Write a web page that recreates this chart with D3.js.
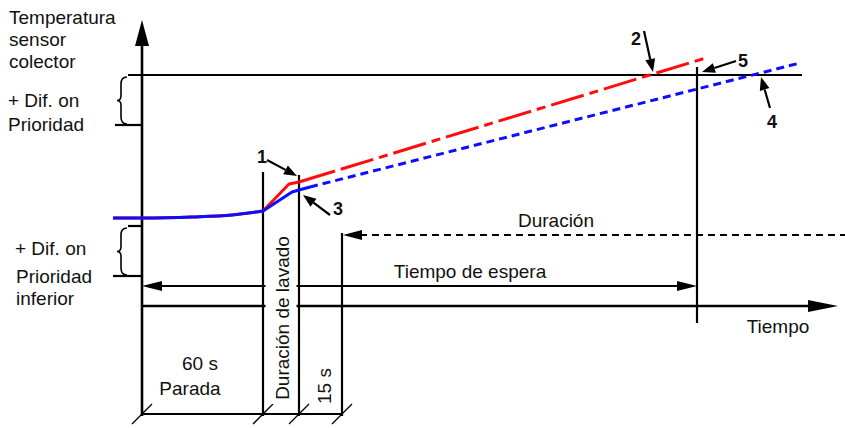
<!DOCTYPE html>
<html><head><meta charset="utf-8">
<script src="https://cdn.jsdelivr.net/npm/d3@7/dist/d3.min.js"></script>
<style>
body{margin:0;background:#fff;}
text{font-family:"Liberation Sans",Arial,sans-serif;fill:#111;}
</style></head>
<body>
<svg id="c" width="845" height="428"></svg>
<script>
// ---- data (units: abstract time / temperature steps) ----
const timeMarks = [0, 121, 157, 200, 555];          // origin, end stop, end flush, end 15 s, end waiting time
const timeAxisEnd = 696;
const levelOn = 231, levelOnLow = 181;               // + Dif. on Prioridad
const levelInfOn = 80, levelInfLow = 30;             // + Dif. on Prioridad inferior
const tempAxisEnd = 286;
const durationLevel = 71, waitLevel = 20;
const redSolid  = [[-29,88],[0,88],[50,89],[90,91],[121,95],[147,122],[157,124],[193,135]];
const redDash   = [[193,135],[567,249]];
const blueSolid = [[-29,88],[0,88],[50,89],[90,91],[121,95],[150,114],[157,116],[168,119]];
const blueDash  = [[168,119],[658,243]];
const yLabelLines = ["Temperatura","sensor","colector"];
const difLines = ["+ Dif. on","Prioridad"];
const difInfLines = ["+ Dif. on","Prioridad","inferior"];
const callouts = ["1","2","3","4","5"];

const svg = d3.select("#c");
const x = d3.scaleLinear().domain([0, 695]).range([142, 837]);
const y = d3.scaleLinear().domain([0, 286]).range([306, 20]);
const K = "#000";

function ln(x1,y1,x2,y2,w,extra){
  const l = svg.append("line").attr("x1",x1).attr("y1",y1).attr("x2",x2).attr("y2",y2)
    .attr("stroke",K).attr("stroke-width",w||2);
  if(extra) l.attr("stroke-dasharray",extra);
  return l;
}
function head(tx,ty,fx,fy,len,hw){
  const dx=tx-fx, dy=ty-fy, d=Math.hypot(dx,dy), ux=dx/d, uy=dy/d;
  const bx=tx-ux*len, by=ty-uy*len;
  svg.append("path").attr("d",`M${tx},${ty}L${bx-uy*hw},${by+ux*hw}L${bx+uy*hw},${by-ux*hw}Z`).attr("fill",K);
  return [bx,by];
}
function callArrow(fx,fy,tx,ty){
  const b = head(tx,ty,fx,fy,13,5);
  ln(fx,fy,b[0],b[1],2.2);
}

const x0 = x(timeMarks[0]);
const yb = 414;

// horizontal reference lines
ln(x0-14, y(levelOn), x(658)+2, y(levelOn), 2.2);
ln(x0-27, y(levelOnLow), x0, y(levelOnLow), 2.2);
ln(x0-14, y(levelInfOn), x0, y(levelInfOn), 2.2);
ln(x0-29, y(levelInfLow), x0, y(levelInfLow), 2.2);

// braces
function brace(bx, y1, y2){
  const m=(y1+y2)/2;
  svg.append("path").attr("fill","none").attr("stroke",K).attr("stroke-width",1.6)
    .attr("d",`M${bx+8},${y1}Q${bx+2},${y1} ${bx+2},${y1+7}L${bx+2},${m-5}Q${bx+2},${m} ${bx-2},${m}Q${bx+2},${m} ${bx+2},${m+5}L${bx+2},${y2-7}Q${bx+2},${y2} ${bx+8},${y2}`);
}
brace(119, y(levelOn)+2, y(levelOnLow)-1);
brace(119, y(levelInfOn)+2, y(levelInfLow)-1);

// time axis
const xa = y(0);
ln(x0, xa, x(timeAxisEnd)-20, xa, 2.5);
svg.append("path").attr("d",`M${x(timeAxisEnd)},${xa}L${x(timeAxisEnd)-30},${xa-6}L${x(timeAxisEnd)-30},${xa+6}Z`).attr("fill",K);
// waiting time
const yw = y(waitLevel);
ln(x0+18, yw, x(timeMarks[4])-18, yw, 2.2);
head(x0, yw, x0+20, yw, 20, 5);
head(x(timeMarks[4]), yw, x(timeMarks[4])-20, yw, 20, 5);
// duration dashed
const yd = y(durationLevel);
ln(x(timeMarks[3])+18, yd, 845, yd, 2.2, "7,5");
head(x(timeMarks[3])+1, yd, x(timeMarks[3])+20, yd, 19, 5);

// verticals
ln(x0, 42, x0, yb+2, 2.6);
svg.append("path").attr("d",`M${x0},20L${x0-7},46L${x0+7},46Z`).attr("fill",K);
ln(x(timeMarks[1]), 172, x(timeMarks[1]), yb+2, 2.2);
ln(x(timeMarks[2]), 175, x(timeMarks[2]), yb+2, 2.2);
ln(x(timeMarks[3]), yd-2, x(timeMarks[3]), yb+2, 2.2);
ln(x(timeMarks[4]), 67, x(timeMarks[4]), 323, 2.2);

// bottom dimension line
ln(x0, yb, x(timeMarks[3]), yb, 2.2);
[0,1,2,3].forEach(i=>{ const xx=x(timeMarks[i]); ln(xx-10,yb+10,xx+10,yb-10,1.3); });

// white mask behind rotated label
svg.append("rect").attr("x",x(timeMarks[1])+2.5).attr("y",232).attr("width",x(timeMarks[2])-x(timeMarks[1])-5).attr("height",172).attr("fill","#fff");

// curves
const line = d3.line().x(d=>x(d[0])).y(d=>y(d[1]));
const lc = d3.line().x(d=>x(d[0])).y(d=>y(d[1])).curve(d3.curveMonotoneX);
svg.append("path").attr("d",lc(redSolid.slice(0,5))+ "L"+redSolid.slice(5).map(d=>x(d[0])+","+y(d[1])).join("L")).attr("fill","none").attr("stroke","#ff0d0d").attr("stroke-width",3).attr("stroke-linejoin","round");
svg.append("path").attr("d",line(redDash)).attr("fill","none").attr("stroke","#ff0d0d").attr("stroke-width",3).attr("stroke-dasharray","34,6,9,6").attr("stroke-dashoffset",-6);
svg.append("path").attr("d",lc(blueSolid.slice(0,5))+ "L"+blueSolid.slice(5).map(d=>x(d[0])+","+y(d[1])).join("L")).attr("fill","none").attr("stroke","#0d0dff").attr("stroke-width",3).attr("stroke-linejoin","round");
svg.append("path").attr("d",line(blueDash)).attr("fill","none").attr("stroke","#0d0dff").attr("stroke-width",3).attr("stroke-dasharray","8,5");

// texts
function txt(s,tx,ty,opt){
  opt=opt||{};
  const t=svg.append("text").attr("x",tx).attr("y",ty).text(s)
    .style("font-size",(opt.size||19)+"px");
  if(opt.anchor) t.attr("text-anchor",opt.anchor);
  if(opt.bold) t.style("font-weight","bold");
  if(opt.rot) t.attr("transform",`rotate(-90,${tx},${ty})`);
  return t;
}
yLabelLines.forEach((s,i)=>txt(s,9,24+i*22));
difLines.forEach((s,i)=>txt(s,8,107+i*24));
txt(difInfLines[0],15,255);
txt(difInfLines[1],16,283);
txt(difInfLines[2],16,305);
txt("Duración",556,227,{anchor:"middle"});
txt("Tiempo de espera",470,278,{anchor:"middle"});
txt("Tiempo",778,333,{anchor:"middle"});
txt("60 s",200,370,{anchor:"middle"});
txt("Parada",190,395,{anchor:"middle"});
txt("Duración de lavado",289,318,{anchor:"middle",rot:true});
txt("15 s",331,386,{anchor:"middle",rot:true});

// callouts
const cpos = [[262,163],[636,45],[338,215],[772,128],[743,67]];
callouts.forEach((s,i)=>txt(s,cpos[i][0],cpos[i][1],{anchor:"middle",bold:true,size:18}));
callArrow(267,160,297,176);
callArrow(644,31,653,72);
callArrow(330,215,303,195);
callArrow(770,108,761,77);
callArrow(736,61,702,72);
</script>
</body></html>
